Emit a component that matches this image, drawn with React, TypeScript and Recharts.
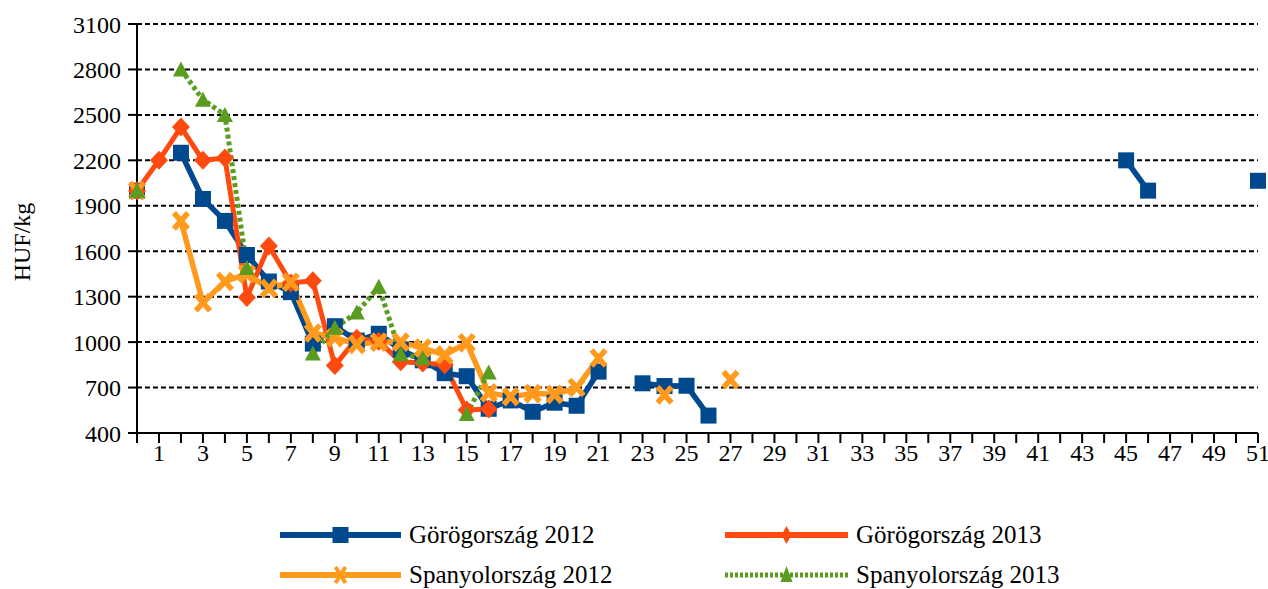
import React from 'react';
import { LineChart, Line, XAxis, YAxis, CartesianGrid } from 'recharts';

const weeks = [0,1,2,3,4,5,6,7,8,9,10,11,12,13,14,15,16,17,18,19,20,21,22,23,24,25,26,27,28,29,30,31,32,33,34,35,36,37,38,39,40,41,42,43,44,45,46,47,48,49,50,51];

const yTicks = [400, 700, 1000, 1300, 1600, 1900, 2200, 2500, 2800, 3100];

const seriesNames = ['Görögország 2012', 'Görögország 2013', 'Spanyolország 2012', 'Spanyolország 2013'];

const gr2012: (number | null)[] = [
  2000, null, 2250, 1945, 1800, 1575, 1400, 1330, 990, 1105,
  1010, 1055, 950, 880, 795, 775, 560, 615, 540, 600,
  580, 805, null, 728, 710, 712, 515, null, null, null,
  null, null, null, null, null, null, null, null, null, null,
  null, null, null, null, null, 2200, 2000, null, null, null,
  null, 2065,
];

const gr2013: (number | null)[] = [
  2000, 2200, 2420, 2200, 2215, 1295, 1635, 1390, 1405, 845,
  1025, 1005, 870, 862, 850, 552, 558,
];

const es2012: (number | null)[] = [
  2000, null, 1800, 1260, 1400, 1450, 1355, 1395, 1060, 1030,
  985, 1000, 1000, 960, 915, 995, 665, 640, 660, 655,
  700, 895, null, null, 652, null, null, 752,
];

const es2013: (number | null)[] = [
  2000, null, 2800, 2600, 2500, 1490, null, null, 925, 1095,
  1195, 1365, 920, 895, null, 525, 800,
];

const data = weeks.map((w, i) => ({
  week: w,
  gr2012: gr2012[i] ?? null,
  gr2013: gr2013[i] ?? null,
  es2012: es2012[i] ?? null,
  es2013: es2013[i] ?? null,
}));

const BLUE = '#00498E';
const RED = '#FF4A0F';
const ORANGE = '#FF9A1C';
const GREEN = '#5A9C1F';
const FONT = '"Liberation Serif", "Times New Roman", serif';

const ok = (p: any) => p && p.cx != null && p.cy != null && p.value != null && !Number.isNaN(p.cx) && !Number.isNaN(p.cy);

const SquareDot = (p: any) => {
  if (!ok(p)) return <g key={p.key} />;
  const s = 16;
  return <rect key={p.key} x={p.cx - s / 2} y={p.cy - s / 2} width={s} height={s} fill={BLUE} />;
};

const DiamondDot = (p: any) => {
  if (!ok(p)) return <g key={p.key} />;
  const w = 9, h = 9.5;
  return (
    <polygon
      key={p.key}
      points={`${p.cx},${p.cy - h} ${p.cx + w},${p.cy} ${p.cx},${p.cy + h} ${p.cx - w},${p.cy}`}
      fill={RED}
    />
  );
};

const XDot = (p: any) => {
  if (!ok(p)) return <g key={p.key} />;
  const s = 7;
  return (
    <g key={p.key}>
      <path
        d={`M${p.cx - s},${p.cy - s - 1} L${p.cx + s},${p.cy + s + 1} M${p.cx + s},${p.cy - s - 1} L${p.cx - s},${p.cy + s + 1}`}
        stroke={ORANGE}
        strokeWidth={5.5}
      />
    </g>
  );
};

const TriDot = (p: any) => {
  if (!ok(p)) return <g key={p.key} />;
  const w = 8, h = 8;
  return (
    <polygon
      key={p.key}
      points={`${p.cx},${p.cy - h} ${p.cx + w},${p.cy + h - 1} ${p.cx - w},${p.cy + h - 1}`}
      fill={GREEN}
    />
  );
};

const YLabel = () => (
  <text
    x={22}
    y={242}
    transform="rotate(-90 22 242)"
    textAnchor="middle"
    dominantBaseline="central"
    fontFamily={FONT}
    fontSize={24}
    fill="#000"
  >
    HUF/kg
  </text>
);

const LegendOverlay = () => {
  const items = [
    { name: seriesNames[0], color: BLUE, x1: 280, x2: 401, y: 535, marker: 'square', dash: undefined as string | undefined },
    { name: seriesNames[1], color: RED, x1: 725, x2: 848, y: 535, marker: 'diamond', dash: undefined },
    { name: seriesNames[2], color: ORANGE, x1: 280, x2: 401, y: 575, marker: 'x', dash: undefined },
    { name: seriesNames[3], color: GREEN, x1: 725, x2: 848, y: 575, marker: 'tri', dash: '3 2' },
  ];
  return (
    <svg width={1268} height={589} style={{ position: 'absolute', left: 0, top: 0, pointerEvents: 'none' }}>
      {items.map((it) => {
        const mx = (it.x1 + it.x2) / 2;
        let marker: React.ReactNode = null;
        if (it.marker === 'square') marker = <rect x={mx - 8} y={it.y - 8} width={16} height={16} fill={it.color} />;
        if (it.marker === 'diamond') marker = <polygon points={`${mx},${it.y - 9} ${mx + 5},${it.y} ${mx},${it.y + 9} ${mx - 5},${it.y}`} fill={it.color} />;
        if (it.marker === 'x') marker = <path d={`M${mx - 5},${it.y - 8} L${mx + 5},${it.y + 8} M${mx + 5},${it.y - 8} L${mx - 5},${it.y + 8}`} stroke={it.color} strokeWidth={4} />;
        if (it.marker === 'tri') marker = <polygon points={`${mx},${it.y - 9} ${mx + 6},${it.y + 7} ${mx - 6},${it.y + 7}`} fill={it.color} />;
        return (
          <g key={it.name}>
            <line x1={it.x1} y1={it.y} x2={it.x2} y2={it.y} stroke={it.color} strokeWidth={it.dash ? 5 : 6} strokeDasharray={it.dash} />
            {marker}
            <text x={it.x2 + 8} y={it.y + 8} fontFamily={FONT} fontSize={25} fill="#000">
              {it.name}
            </text>
          </g>
        );
      })}
    </svg>
  );
};

export default function App() {
  return (
    <div style={{ position: 'absolute', left: 0, top: 0, width: 1268, height: 589, background: '#fff' }}>
      <LineChart
        width={1268}
        height={589}
        data={data}
        margin={{ top: 24, right: 10, left: 0, bottom: 116 }}
      >
        <CartesianGrid vertical={false} stroke="#000" strokeWidth={2} strokeDasharray="5 3" />
        <XAxis
          dataKey="week"
          type="number"
          domain={[0, 51]}
          ticks={weeks}
          interval={0}
          height={40}
          tickFormatter={(v: number) => (v % 2 === 1 ? String(v) : '')}
          tick={{ fontFamily: FONT, fontSize: 24, fill: '#000' }}
          tickSize={10}
          tickMargin={1}
          axisLine={{ stroke: '#000', strokeWidth: 2 }}
          tickLine={{ stroke: '#000', strokeWidth: 2 }}
        />
        <YAxis
          type="number"
          domain={[400, 3100]}
          ticks={yTicks}
          interval={0}
          width={137}
          tick={{ fontFamily: FONT, fontSize: 24, fill: '#000' }}
          tickSize={9}
          tickMargin={7}
          axisLine={{ stroke: '#000', strokeWidth: 2 }}
          tickLine={{ stroke: '#000', strokeWidth: 2 }}
          label={{ content: () => <YLabel /> }}
        />
        <Line
          dataKey="gr2012"
          name={seriesNames[0]}
          stroke={BLUE}
          strokeWidth={5.5}
          dot={SquareDot}
          activeDot={false}
          isAnimationActive={false}
          connectNulls={false}
          strokeLinejoin="round"
        />
        <Line
          dataKey="gr2013"
          name={seriesNames[1]}
          stroke={RED}
          strokeWidth={5}
          dot={DiamondDot}
          activeDot={false}
          isAnimationActive={false}
          connectNulls={false}
          strokeLinejoin="round"
        />
        <Line
          dataKey="es2012"
          name={seriesNames[2]}
          stroke={ORANGE}
          strokeWidth={5.5}
          dot={XDot}
          activeDot={false}
          isAnimationActive={false}
          connectNulls={false}
          strokeLinejoin="round"
        />
        <Line
          dataKey="es2013"
          name={seriesNames[3]}
          stroke={GREEN}
          strokeWidth={5}
          strokeDasharray="4 3"
          dot={TriDot}
          activeDot={false}
          isAnimationActive={false}
          connectNulls={false}
        />
      </LineChart>
      <LegendOverlay />
    </div>
  );
}
